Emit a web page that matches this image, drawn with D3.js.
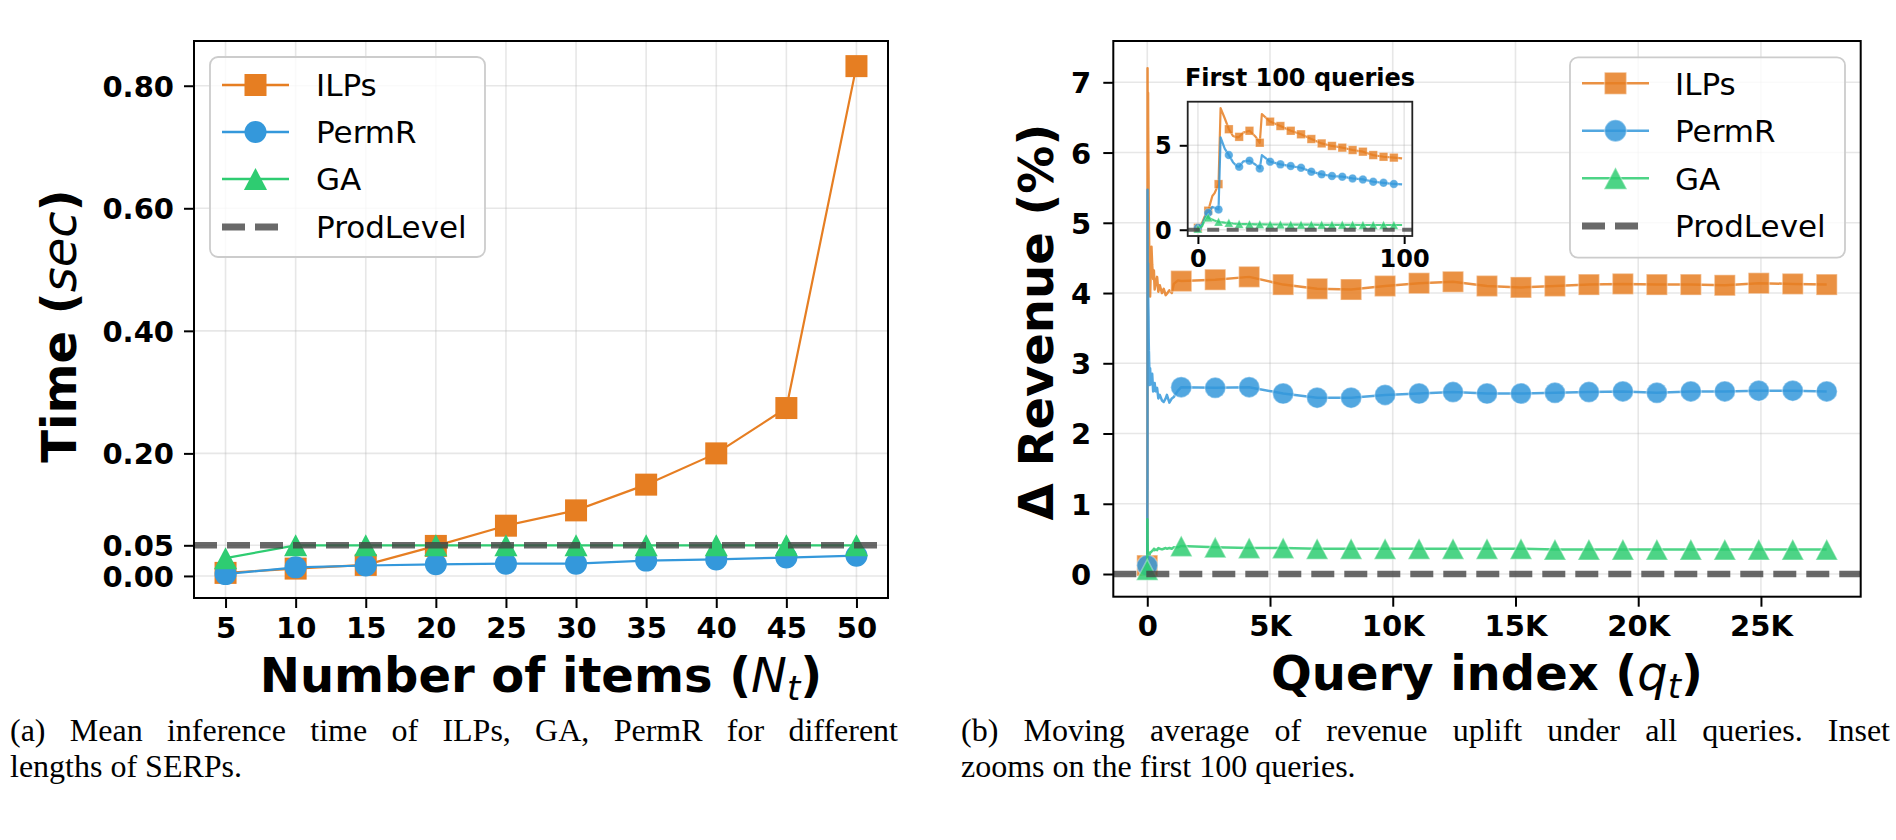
<!DOCTYPE html>
<html>
<head>
<meta charset="utf-8">
<script src="https://cdn.jsdelivr.net/npm/d3@7"></script>
<style>
  body { margin: 0; background: #fff; }
  svg { display: block; font-family: "DejaVu Sans", sans-serif; }
</style>
</head>
<body>
<svg id="fig" width="1896" height="840"></svg>
<script>
// ---------- panel (a): mean inference time ----------
const itemCounts = [5, 10, 15, 20, 25, 30, 35, 40, 45, 50];
const ilpsTime  = [0.005, 0.012, 0.018, 0.049, 0.082, 0.107, 0.149, 0.200, 0.274, 0.832];
const permrTime = [0.003, 0.014, 0.017, 0.019, 0.020, 0.020, 0.025, 0.027, 0.030, 0.033];
const gaTime    = [0.029, 0.050, 0.050, 0.050, 0.050, 0.050, 0.050, 0.050, 0.050, 0.050];
const prodLevelTime = 0.05;
const timeTicks = [0, 0.05, 0.2, 0.4, 0.6, 0.8];

// ---------- panel (b): moving average of revenue uplift ----------
// first 100 queries (also shown in the inset)
const firstQueries = [0, 2, 4, 5, 7, 8, 10, 11, 13, 15, 17, 19, 20, 22, 25, 28, 30, 31, 35, 40, 45, 50, 55, 60, 65, 70, 75, 80, 85, 90, 95, 99];
const ilpsFirst  = [0.12, 0.4, 1.0, 1.13, 2.0, 2.15, 2.7, 7.2, 6.6, 5.95, 5.55, 5.47, 5.5, 5.75, 5.86, 5.5, 5.15, 6.85, 6.4, 6.14, 5.86, 5.65, 5.37, 5.11, 4.96, 4.86, 4.72, 4.62, 4.42, 4.32, 4.27, 4.23];
const permrFirst = [0.12, 0.3, 0.9, 1.0, 1.35, 1.3, 1.2, 5.47, 4.8, 4.42, 4.0, 3.75, 3.73, 4.05, 4.09, 3.85, 3.63, 4.42, 4.03, 3.87, 3.77, 3.67, 3.44, 3.28, 3.18, 3.14, 3.04, 2.98, 2.84, 2.78, 2.71, 2.69];
const gaFirst    = [0.06, 0.2, 0.78, 0.72, 0.6, 0.55, 0.47, 0.45, 0.42, 0.41, 0.37, 0.35, 0.34, 0.33, 0.33, 0.32, 0.32, 0.32, 0.31, 0.31, 0.30, 0.30, 0.30, 0.29, 0.29, 0.29, 0.29, 0.28, 0.28, 0.28, 0.28, 0.28];
// noisy stretch before the first big marker
const earlyQueries = [115, 140, 170, 200, 240, 270, 300, 340, 400, 450, 510, 600, 670, 750, 800, 900, 1000, 1080, 1250];
const ilpsEarly  = [3.95, 4.3, 4.66, 4.4, 4.2, 4.32, 4.05, 4.13, 4.23, 4.02, 4.11, 4.0, 4.06, 3.97, 3.99, 4.04, 4.0, 4.13, 4.18];
const permrEarly = [2.93, 2.75, 2.7, 2.85, 2.6, 2.61, 2.72, 2.6, 2.65, 2.5, 2.55, 2.47, 2.45, 2.5, 2.55, 2.44, 2.5, 2.52, 2.61];
const gaEarly    = [0.30, 0.31, 0.32, 0.33, 0.34, 0.36, 0.34, 0.35, 0.34, 0.37, 0.36, 0.35, 0.36, 0.37, 0.36, 0.37, 0.36, 0.38, 0.38];
// marker positions over the whole run
const markQueries = [1384, 2768, 4152, 5536, 6920, 8304, 9688, 11072, 12456, 13840, 15224, 16608, 17992, 19376, 20760, 22144, 23528, 24912, 26296, 27680];
const ilpsMarks  = [4.17, 4.19, 4.23, 4.12, 4.06, 4.05, 4.10, 4.14, 4.16, 4.10, 4.08, 4.10, 4.12, 4.13, 4.12, 4.12, 4.11, 4.14, 4.13, 4.12];
const permrMarks = [2.66, 2.65, 2.66, 2.57, 2.51, 2.51, 2.55, 2.57, 2.59, 2.57, 2.57, 2.58, 2.59, 2.60, 2.58, 2.60, 2.60, 2.61, 2.61, 2.60];
const gaMarks    = [0.40, 0.38, 0.37, 0.37, 0.36, 0.36, 0.36, 0.36, 0.36, 0.36, 0.36, 0.35, 0.35, 0.35, 0.35, 0.35, 0.35, 0.35, 0.35, 0.35];
const insetMarkQueries = [0, 5, 10, 15, 20, 25, 30, 35, 40, 45, 50, 55, 60, 65, 70, 75, 80, 85, 90, 95];
const prodLevelRevenue = 0;
const revenueTicks = [0, 1, 2, 3, 4, 5, 6, 7];
const queryTicks = [0, 5000, 10000, 15000, 20000, 25000];

const seriesNames = ["ILPs", "PermR", "GA"];
const colors = { ILPs: "#e67e22", PermR: "#3498db", GA: "#2ecc71" };
const shapes = { ILPs: "square", PermR: "circle", GA: "triangle" };
const prodColor = "#444";

const svg = d3.select("#fig");
svg.append("rect").attr("width", 1896).attr("height", 840).attr("fill", "#fff");

function pts(qs, vs) { return qs.map((q, i) => ({ x: q, y: vs[i] })); }

function drawMarker(g, shape, cx, cy, size, color, opacity, edge) {
  let m;
  if (shape === "square") {
    m = g.append("rect").attr("x", cx - size / 2).attr("y", cy - size / 2)
      .attr("width", size).attr("height", size);
  } else if (shape === "circle") {
    m = g.append("circle").attr("cx", cx).attr("cy", cy).attr("r", size / 2);
  } else {
    const w = size * 1.05, h = size;
    m = g.append("path").attr("d", `M${cx},${cy - h / 2}L${cx + w / 2},${cy + h / 2}L${cx - w / 2},${cy + h / 2}Z`);
  }
  m.attr("fill", color).attr("fill-opacity", opacity);
  if (edge) m.attr("stroke", "#fff").attr("stroke-opacity", 0.35).attr("stroke-width", edge);
}

function styleAxis(g, size) {
  g.attr("font-family", null).attr("font-size", null);
  g.select(".domain").remove();
  g.selectAll(".tick line").attr("stroke", "#000").attr("stroke-width", 2);
  g.selectAll(".tick text").attr("fill", "#000").attr("font-size", size)
    .attr("font-weight", "bold").attr("font-family", "DejaVu Sans");
}

function grid(g, x, y, xt, yt, box) {
  g.selectAll(null).data(xt).join("line")
    .attr("x1", d => x(d)).attr("x2", d => x(d)).attr("y1", box.top).attr("y2", box.bottom)
    .attr("stroke", "#b0b0b0").attr("stroke-opacity", 0.3).attr("stroke-width", 1.6);
  g.selectAll(null).data(yt).join("line")
    .attr("y1", d => y(d)).attr("y2", d => y(d)).attr("x1", box.left).attr("x2", box.right)
    .attr("stroke", "#b0b0b0").attr("stroke-opacity", 0.3).attr("stroke-width", 1.6);
}

function legend(box, rows, lineX, textX, markerOpacity, edge) {
  const g = svg.append("g");
  g.append("rect").attr("x", box.x).attr("y", box.y).attr("width", box.w).attr("height", box.h)
    .attr("rx", 8).attr("fill", "#fff").attr("fill-opacity", 0.8)
    .attr("stroke", "#cccccc").attr("stroke-width", 1.8);
  const cx = (lineX[0] + lineX[1]) / 2;
  seriesNames.forEach((name, i) => {
    g.append("line").attr("x1", lineX[0]).attr("x2", lineX[1]).attr("y1", rows[i]).attr("y2", rows[i])
      .attr("stroke", colors[name]).attr("stroke-width", 2.4).attr("stroke-opacity", markerOpacity);
    drawMarker(g, shapes[name], cx, rows[i], 22, colors[name], markerOpacity, edge);
    g.append("text").attr("x", textX).attr("y", rows[i] + 11.3).attr("font-size", 31).text(name);
  });
  g.append("line").attr("x1", lineX[0]).attr("x2", lineX[1] - 8).attr("y1", rows[3]).attr("y2", rows[3])
    .attr("stroke", prodColor).attr("stroke-opacity", 0.8).attr("stroke-width", 7)
    .attr("stroke-dasharray", "23 10");
  g.append("text").attr("x", textX).attr("y", rows[3] + 11.3).attr("font-size", 31).text("ProdLevel");
}

// ================= panel (a) =================
const A = { left: 194, right: 888, top: 41, bottom: 598 };
const xA = d3.scaleLinear().domain([2.75, 52.25]).range([A.left, A.right]);
const yA = d3.scaleLinear().domain([-0.036, 0.873]).range([A.bottom, A.top]);

grid(svg.append("g"), xA, yA, itemCounts, timeTicks, A);

svg.append("g").attr("transform", `translate(0,${A.bottom})`)
  .call(d3.axisBottom(xA).tickValues(itemCounts).tickSize(10).tickPadding(9))
  .call(g => styleAxis(g, 29));
svg.append("g").attr("transform", `translate(${A.left},0)`)
  .call(d3.axisLeft(yA).tickValues(timeTicks).tickFormat(d3.format(".2f")).tickSize(10).tickPadding(10))
  .call(g => styleAxis(g, 29))
  .call(g => g.selectAll(".tick text").attr("dy", "0.36em"));

const timeSeries = { ILPs: ilpsTime, PermR: permrTime, GA: gaTime };
const lineA = d3.line().x(d => xA(d.x)).y(d => yA(d.y));
seriesNames.forEach(name => {
  const data = pts(itemCounts, timeSeries[name]);
  const g = svg.append("g");
  g.append("path").attr("d", lineA(data)).attr("fill", "none")
    .attr("stroke", colors[name]).attr("stroke-width", 2.2);
  data.forEach(d => drawMarker(g, shapes[name], xA(d.x), yA(d.y), 22, colors[name], 1, 0));
});
svg.append("line").attr("x1", A.left).attr("x2", A.right)
  .attr("y1", yA(prodLevelTime)).attr("y2", yA(prodLevelTime))
  .attr("stroke", prodColor).attr("stroke-opacity", 0.8).attr("stroke-width", 6.5)
  .attr("stroke-dasharray", "23 10");

svg.append("rect").attr("x", A.left).attr("y", A.top).attr("width", A.right - A.left)
  .attr("height", A.bottom - A.top).attr("fill", "none").attr("stroke", "#000").attr("stroke-width", 2);

legend({ x: 210, y: 57, w: 275, h: 200 }, [85, 132, 179, 227], [222, 289], 316, 1, 0);

svg.append("text").attr("transform", `translate(541,692)`).attr("text-anchor", "middle")
  .attr("font-size", 48).attr("font-weight", "bold")
  .call(t => {
    t.append("tspan").text("Number of items (");
    t.append("tspan").attr("font-style", "italic").attr("font-weight", "normal").text("N");
    t.append("tspan").attr("font-style", "italic").attr("font-weight", "normal")
      .attr("font-size", 34).attr("dy", 8).text("t");
    t.append("tspan").attr("dy", -8).text(")");
  });
svg.append("text").attr("transform", `translate(76,326) rotate(-90)`).attr("text-anchor", "middle")
  .attr("font-size", 48).attr("font-weight", "bold")
  .call(t => {
    t.append("tspan").text("Time (");
    t.append("tspan").attr("font-style", "italic").attr("font-weight", "normal").text("sec");
    t.append("tspan").text(")");
  });

// ================= panel (b) =================
const B = { left: 1113.3, right: 1860.7, top: 41, bottom: 596.7 };
const xB = d3.scaleLinear().domain([-1384, 29064]).range([B.left, B.right]);
const yB = d3.scaleLinear().domain([-0.323, 7.588]).range([B.bottom, B.top]);

grid(svg.append("g"), xB, yB, queryTicks, revenueTicks, B);

svg.append("g").attr("transform", `translate(0,${B.bottom})`)
  .call(d3.axisBottom(xB).tickValues(queryTicks).tickFormat(d => d === 0 ? "0" : d / 1000 + "K")
    .tickSize(10).tickPadding(9))
  .call(g => styleAxis(g, 29));
svg.append("g").attr("transform", `translate(${B.left},0)`)
  .call(d3.axisLeft(yB).tickValues(revenueTicks).tickSize(10).tickPadding(12))
  .call(g => styleAxis(g, 29))
  .call(g => g.selectAll(".tick text").attr("dy", "0.36em"));

const firstSeries = { ILPs: ilpsFirst, PermR: permrFirst, GA: gaFirst };
const earlySeries = { ILPs: ilpsEarly, PermR: permrEarly, GA: gaEarly };
const markSeries  = { ILPs: ilpsMarks, PermR: permrMarks, GA: gaMarks };

const lineB = d3.line().x(d => xB(d.x)).y(d => yB(d.y));
seriesNames.forEach(name => {
  const first = pts(firstQueries, firstSeries[name]);
  const marks = pts(markQueries, markSeries[name]);
  const all = first.concat(pts(earlyQueries, earlySeries[name]), marks);
  const g = svg.append("g");
  g.append("path").attr("d", lineB(all)).attr("fill", "none")
    .attr("stroke", colors[name]).attr("stroke-opacity", 0.85).attr("stroke-width", 2.5)
    .attr("stroke-linejoin", "round");
  [first[0]].concat(marks).forEach(d =>
    drawMarker(g, shapes[name], xB(d.x), yB(d.y), 21, colors[name], 0.85, 1.5));
});
svg.append("line").attr("x1", B.left).attr("x2", B.right)
  .attr("y1", yB(prodLevelRevenue)).attr("y2", yB(prodLevelRevenue))
  .attr("stroke", prodColor).attr("stroke-opacity", 0.8).attr("stroke-width", 6.5)
  .attr("stroke-dasharray", "23 10");

svg.append("rect").attr("x", B.left).attr("y", B.top).attr("width", B.right - B.left)
  .attr("height", B.bottom - B.top).attr("fill", "none").attr("stroke", "#000").attr("stroke-width", 2);

// ---- inset: first 100 queries ----
const I = { left: 1187.7, right: 1412.3, top: 101.7, bottom: 236 };
const xI = d3.scaleLinear().domain([-4.95, 103.95]).range([I.left, I.right]);
const yI = d3.scaleLinear().domain([-0.37, 7.58]).range([I.bottom, I.top]);
grid(svg.append("g"), xI, yI, [0, 100], [0, 5], I);
svg.append("g").attr("transform", `translate(0,${I.bottom})`)
  .call(d3.axisBottom(xI).tickValues([0, 100]).tickSize(8).tickPadding(6))
  .call(g => styleAxis(g, 24));
svg.append("g").attr("transform", `translate(${I.left},0)`)
  .call(d3.axisLeft(yI).tickValues([0, 5]).tickSize(8).tickPadding(8))
  .call(g => styleAxis(g, 24))
  .call(g => g.selectAll(".tick text").attr("dy", "0.36em"));

const lineI = d3.line().x(d => xI(d.x)).y(d => yI(d.y));
seriesNames.forEach(name => {
  const first = pts(firstQueries, firstSeries[name]);
  const g = svg.append("g");
  g.append("path").attr("d", lineI(first)).attr("fill", "none")
    .attr("stroke", colors[name]).attr("stroke-opacity", 0.85).attr("stroke-width", 2.2)
    .attr("stroke-linejoin", "round");
  first.filter(d => insetMarkQueries.includes(d.x)).forEach(d =>
    drawMarker(g, shapes[name], xI(d.x), yI(d.y), 8.5, colors[name], 0.8, 0.8));
});
svg.append("line").attr("x1", I.left).attr("x2", I.right)
  .attr("y1", yI(prodLevelRevenue)).attr("y2", yI(prodLevelRevenue))
  .attr("stroke", prodColor).attr("stroke-opacity", 0.8).attr("stroke-width", 4)
  .attr("stroke-dasharray", "12 7.5");
svg.append("rect").attr("x", I.left).attr("y", I.top).attr("width", I.right - I.left)
  .attr("height", I.bottom - I.top).attr("fill", "none").attr("stroke", "#222").attr("stroke-width", 1.8);
svg.append("text").attr("x", (I.left + I.right) / 2).attr("y", 86).attr("text-anchor", "middle")
  .attr("font-size", 24).attr("font-weight", "bold").text("First 100 queries");

legend({ x: 1570, y: 57.3, w: 275, h: 200.4 }, [83.3, 130.7, 178.3, 226], [1582, 1649], 1675, 0.85, 1.5);

svg.append("text").attr("transform", `translate(1487,690)`).attr("text-anchor", "middle")
  .attr("font-size", 48).attr("font-weight", "bold")
  .call(t => {
    t.append("tspan").text("Query index (");
    t.append("tspan").attr("font-style", "italic").attr("font-weight", "normal").text("q");
    t.append("tspan").attr("font-style", "italic").attr("font-weight", "normal")
      .attr("font-size", 34).attr("dy", 8).text("t");
    t.append("tspan").attr("dy", -8).text(")");
  });
svg.append("text").attr("transform", `translate(1053,322) rotate(-90)`).attr("text-anchor", "middle")
  .attr("font-size", 48).attr("font-weight", "bold").text("Δ Revenue (%)");

// ---- captions ----
function caption(x, y, str, width) {
  const t = svg.append("text").attr("x", x).attr("y", y)
    .attr("font-family", "Liberation Serif").attr("font-size", 32).text(str);
  if (width) {
    const natural = t.node().getComputedTextLength();
    const gaps = (str.match(/ /g) || []).length;
    t.attr("word-spacing", (width - natural) / gaps);
  }
}
caption(10, 741, "(a) Mean inference time of ILPs, GA, PermR for different", 888);
caption(10, 777, "lengths of SERPs.");
caption(961, 741, "(b) Moving average of revenue uplift under all queries. Inset", 929);
caption(961, 777, "zooms on the first 100 queries.");
</script>
</body>
</html>
